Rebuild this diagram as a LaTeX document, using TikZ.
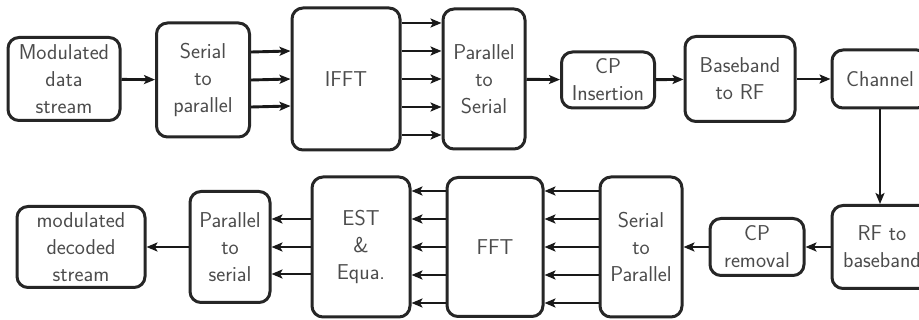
\documentclass[tikz,border=0pt]{standalone}
\usetikzlibrary{arrows.meta}
\begin{document}
\begin{tikzpicture}[x=1pt,y=-1pt,
  blk/.style={draw=black!85, line width=3pt, rounded corners=11pt, fill=white,
    inner sep=0pt, align=center, text=black!70,
    font=\fontsize{21.5}{27}\selectfont\sffamily},
  arr/.style={line width=2.9pt, draw=black!90,
    -{Stealth[length=11pt,width=9pt,inset=2.5pt]}}]
\useasboundingbox (0,0) rectangle (919,320);
\clip (0,0) rectangle (919,320);
\fill[white] (0,0) rectangle (919,320);

% transmitter chain
\node[blk, minimum width=112pt, minimum height=83pt]  (mds)  at (64,79)  {Modulated\\data\\stream};
\node[blk, minimum width=93pt,  minimum height=114pt] (s2p)  at (203,80) {Serial\\to\\parallel};
\node[blk, minimum width=108pt, minimum height=142pt] (ifft) at (346,79) {IFFT};
\node[blk, minimum width=82pt,  minimum height=140pt] (p2s)  at (484,79) {Parallel\\to\\Serial};
\node[blk, minimum width=93pt,  minimum height=56pt]  (cpi)  at (608,80) {CP\\Insertion};
\node[blk, minimum width=110pt, minimum height=85pt]  (b2rf) at (740,79) {Baseband\\to RF};
\node[blk, minimum width=96pt,  minimum height=58pt]  (chan) at (880,79) {Channel};

% receiver chain
\node[blk, minimum width=100pt, minimum height=83pt]  (rf2b) at (882,247) {RF to\\baseband};
\node[blk, minimum width=94pt,  minimum height=57pt]  (cpr)  at (757,247) {CP\\removal};
\node[blk, minimum width=82pt,  minimum height=140pt] (s2pb) at (641,247) {Serial\\to\\Parallel};
\node[blk, minimum width=96pt,  minimum height=139pt] (fft)  at (495,247) {FFT};
\node[blk, minimum width=98pt,  minimum height=140pt] (est)  at (361,247) {EST\\\&\\Equa.};
\node[blk, minimum width=80pt,  minimum height=111pt] (p2sb) at (230,247) {Parallel\\to\\serial};
\node[blk, minimum width=128pt, minimum height=81pt]  (mdds) at (81,247)  {modulated\\decoded\\stream};

% serial links
\draw[arr] (mds) -- (s2p);
\draw[arr] (p2s) -- (cpi);
\draw[arr] (cpi) -- (b2rf);
\draw[arr] (b2rf) -- (chan);
\draw[arr] (chan.south) -- ([xshift=-2pt]rf2b.north);
\draw[arr] (rf2b) -- (cpr);
\draw[arr] (cpr) -- (s2pb);
\draw[arr] (p2sb) -- (mdds);

% parallel links
\foreach \d in {28,0,-27}{
  \draw[arr] ([yshift=\d pt]s2p.east) -- ([yshift=\d pt]ifft.west);
  \draw[arr] ([yshift=\d pt]est.west) -- ([yshift=\d pt]p2sb.east);
}
\foreach \d in {56,28,0,-28,-56}{
  \draw[arr] ([yshift=\d pt]ifft.east) -- ([yshift=\d pt]p2s.west);
  \draw[arr] ([yshift=\d pt]s2pb.west) -- ([yshift=\d pt]fft.east);
  \draw[arr] ([yshift=\d pt]fft.west) -- ([yshift=\d pt]est.east);
}
\end{tikzpicture}
\end{document}
